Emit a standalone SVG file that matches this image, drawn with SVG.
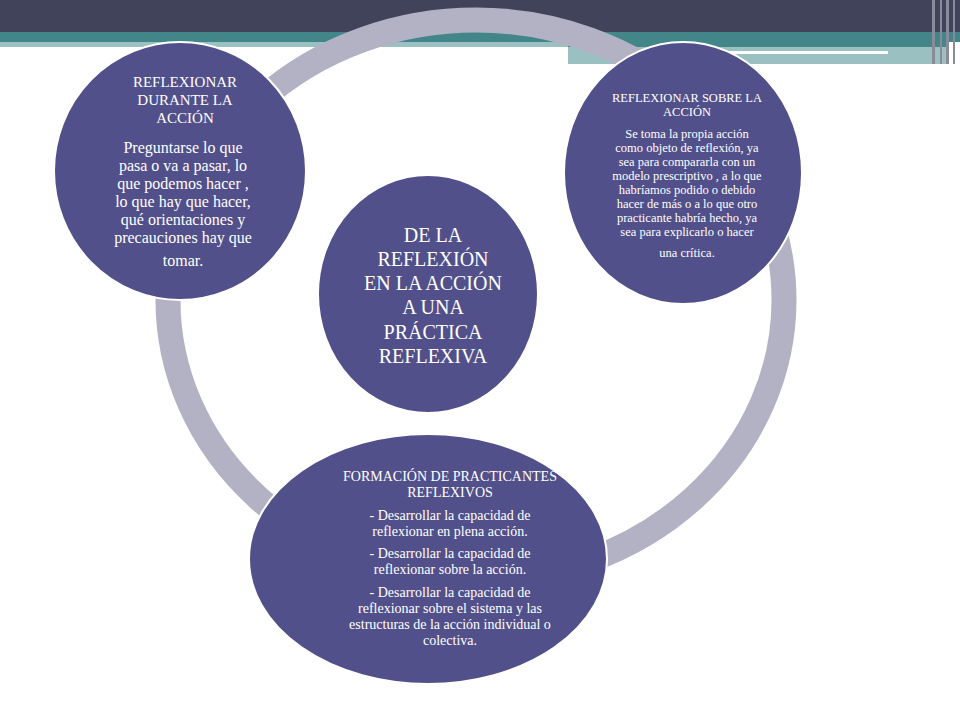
<svg xmlns="http://www.w3.org/2000/svg" width="960" height="720" viewBox="0 0 960 720">
<style>
.n{fill:#52508a;stroke:#fff;stroke-width:2}
text{font-family:"Liberation Serif",serif;fill:#fff;text-anchor:middle}
</style>
<rect width="960" height="720" fill="#fff"/>
<rect x="0" y="0" width="960" height="32" fill="#41435a"/>
<rect x="0" y="32" width="960" height="10" fill="#43868a"/>
<rect x="0" y="42" width="568" height="5" fill="#9ac0c2"/>
<rect x="568" y="42" width="380" height="5" fill="#43868a"/>
<rect x="568" y="47" width="380" height="17" fill="#9ac0c2"/>
<rect x="608" y="51" width="280" height="3" fill="#fff"/>
<g fill="#8a8a9a"><rect x="932" y="0" width="3" height="64"/><rect x="940" y="0" width="2" height="64"/><rect x="946" y="0" width="3" height="64"/><rect x="953" y="0" width="2" height="64"/></g>
<g id="connectors"><ellipse cx="476" cy="300" rx="308" ry="280" fill="none" stroke="#b3b2c5" stroke-width="25"/></g>
<g id="n1"><ellipse class="n" cx="180" cy="171" rx="126" ry="129"/>
<text font-size="15"><tspan x="185" y="87">REFLEXIONAR</tspan><tspan x="185" y="105">DURANTE LA</tspan><tspan x="185" y="123">ACCIÓN</tspan></text>
<text font-size="16"><tspan x="183" y="153">Preguntarse lo que</tspan><tspan x="183" y="171">pasa o va a pasar, lo</tspan><tspan x="183" y="189">que podemos hacer ,</tspan><tspan x="183" y="207">lo que hay que hacer,</tspan><tspan x="183" y="225">qué orientaciones y</tspan><tspan x="183" y="243">precauciones hay que</tspan><tspan x="183" y="266">tomar.</tspan></text></g>
<g id="n2"><ellipse class="n" cx="683" cy="173" rx="119" ry="131"/>
<text font-size="12.5"><tspan x="687" y="102">REFLEXIONAR SOBRE LA</tspan><tspan x="687" y="116">ACCIÓN</tspan></text>
<text font-size="12.5"><tspan x="687" y="138">Se toma la propia acción</tspan><tspan x="687" y="152">como objeto de reflexión, ya</tspan><tspan x="687" y="166">sea para compararla con un</tspan><tspan x="687" y="180">modelo prescriptivo , a lo que</tspan><tspan x="687" y="194">habríamos podido o debido</tspan><tspan x="687" y="208">hacer de  más o a lo que otro</tspan><tspan x="687" y="222">practicante habría hecho, ya</tspan><tspan x="687" y="236">sea para explicarlo o hacer</tspan><tspan x="687" y="257">una crítica.</tspan></text></g>
<g id="n3"><ellipse class="n" cx="428" cy="294" rx="110" ry="119"/>
<text font-size="20"><tspan x="433" y="242">DE LA</tspan><tspan x="433" y="266">REFLEXIÓN</tspan><tspan x="433" y="290">EN LA ACCIÓN</tspan><tspan x="433" y="314">A UNA</tspan><tspan x="433" y="339">PRÁCTICA</tspan><tspan x="433" y="363">REFLEXIVA</tspan></text></g>
<g id="n4"><ellipse class="n" cx="428" cy="559" rx="179" ry="125"/>
<text font-size="14"><tspan x="450" y="481">FORMACIÓN DE PRACTICANTES</tspan><tspan x="450" y="497">REFLEXIVOS</tspan></text>
<text font-size="14"><tspan x="450" y="520">- Desarrollar la capacidad de</tspan><tspan x="450" y="536">reflexionar en plena acción.</tspan><tspan x="450" y="558">-  Desarrollar la capacidad de</tspan><tspan x="450" y="574">reflexionar sobre la acción.</tspan><tspan x="450" y="597">- Desarrollar la capacidad de</tspan><tspan x="450" y="613">reflexionar sobre el sistema y las</tspan><tspan x="450" y="629">estructuras de la acción individual o</tspan><tspan x="450" y="645">colectiva.</tspan></text></g>
</svg>
